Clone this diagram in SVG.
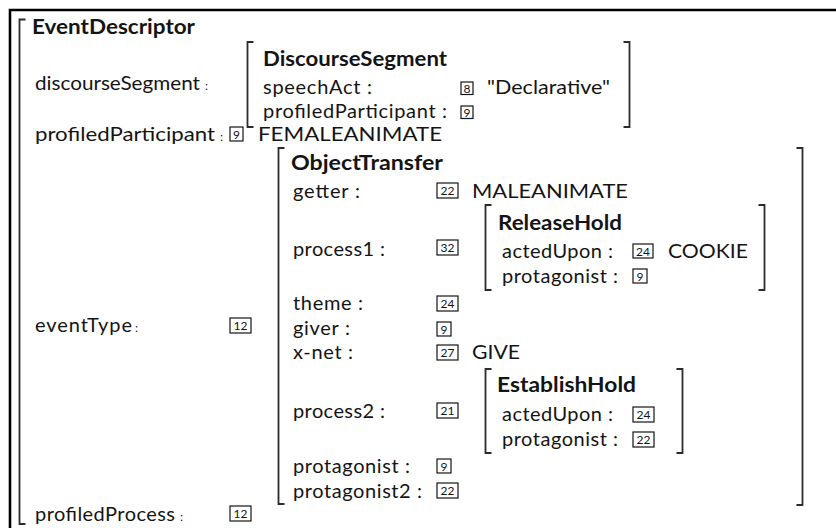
<svg xmlns="http://www.w3.org/2000/svg" width="836" height="528" viewBox="0 0 836 528">
  <style>
    text { font-family: Lato, "Liberation Sans", sans-serif; font-size: 20px; fill: #141414; }
    .ttl { font-weight: bold; }
    .sc { font-size: 12px; }
    .br { fill: none; stroke: #2b2b2b; stroke-width: 1.8; }
    .frame { fill: none; stroke: #000; stroke-width: 2.6; }
    .tag rect { fill: #fff; stroke: #141414; stroke-width: 1.2; }
    .tag text { font-size: 12px; text-anchor: middle; }
  </style>

  <!-- page frame -->
  <path class="frame" d="M10 528 V10 H836"/>

  <!-- EventDescriptor -->
  <g id="event-descriptor">
    <path class="br" d="M25.5 19.5 H19.5 V524 H25.5"/>
    <text class="ttl" x="32" y="34" textLength="163" lengthAdjust="spacingAndGlyphs">EventDescriptor</text>
    <text x="35" y="90" textLength="165" lengthAdjust="spacingAndGlyphs">discourseSegment</text>
    <text class="sc" x="205" y="90">:</text>
    <text x="35" y="141" textLength="180" lengthAdjust="spacingAndGlyphs">profiledParticipant</text>
    <text class="sc" x="220" y="141">:</text>
    <g class="tag" transform="translate(230,127)"><rect width="13" height="14"/><text x="6.5" y="11.5">9</text></g>
    <text x="258" y="141" textLength="184" lengthAdjust="spacingAndGlyphs">FEMALEANIMATE</text>
    <text x="35" y="332" textLength="97">eventType</text>
    <text class="sc" x="135" y="332">:</text>
    <g class="tag" transform="translate(230,318)"><rect width="21" height="15"/><text x="10.5" y="12">12</text></g>
    <text x="35" y="521" textLength="140">profiledProcess</text>
    <text class="sc" x="180" y="521">:</text>
    <g class="tag" transform="translate(230,506)"><rect width="21" height="15"/><text x="10.5" y="12">12</text></g>
  </g>

  <!-- DiscourseSegment -->
  <g id="discourse-segment">
    <path class="br" d="M253.5 42 H247.5 V127 H253.5"/>
    <path class="br" d="M623.5 42 H629.5 V127 H623.5"/>
    <text class="ttl" x="263" y="66" textLength="184" lengthAdjust="spacingAndGlyphs">DiscourseSegment</text>
    <text x="263" y="94" textLength="109">speechAct :</text>
    <g class="tag" transform="translate(461,82)"><rect width="12" height="12.5"/><text x="6" y="10.5">8</text></g>
    <text x="487" y="94" textLength="123" lengthAdjust="spacingAndGlyphs">"Declarative"</text>
    <text x="263" y="118" textLength="184">profiledParticipant :</text>
    <g class="tag" transform="translate(461,106)"><rect width="12" height="12.5"/><text x="6" y="10.5">9</text></g>
  </g>

  <!-- ObjectTransfer -->
  <g id="object-transfer">
    <path class="br" d="M284.5 148 H278.5 V504 H284.5"/>
    <path class="br" d="M796.5 148 H802.5 V505 H796.5"/>
    <text class="ttl" x="291" y="170" textLength="152" lengthAdjust="spacingAndGlyphs">ObjectTransfer</text>
    <text x="293" y="198" textLength="67">getter :</text>
    <g class="tag" transform="translate(437,183)"><rect width="21" height="15"/><text x="10.5" y="12">22</text></g>
    <text x="472" y="198" textLength="156" lengthAdjust="spacingAndGlyphs">MALEANIMATE</text>
    <text x="293" y="256" textLength="92">process1 :</text>
    <g class="tag" transform="translate(437,240)"><rect width="21" height="15"/><text x="10.5" y="12">32</text></g>
    <text x="293" y="310" textLength="70">theme :</text>
    <g class="tag" transform="translate(437,296)"><rect width="21" height="15"/><text x="10.5" y="12">24</text></g>
    <text x="293" y="335" textLength="57">giver :</text>
    <g class="tag" transform="translate(437,322)"><rect width="14" height="14"/><text x="7" y="11.5">9</text></g>
    <text x="293" y="359" textLength="60">x-net :</text>
    <g class="tag" transform="translate(437,345)"><rect width="21" height="15"/><text x="10.5" y="12">27</text></g>
    <text x="472" y="359" textLength="48" lengthAdjust="spacingAndGlyphs">GIVE</text>
    <text x="293" y="418" textLength="92">process2 :</text>
    <g class="tag" transform="translate(437,403)"><rect width="21" height="15"/><text x="10.5" y="12">21</text></g>
    <text x="293" y="473" textLength="117">protagonist :</text>
    <g class="tag" transform="translate(437,459)"><rect width="14" height="14"/><text x="7" y="11.5">9</text></g>
    <text x="293" y="498" textLength="129">protagonist2 :</text>
    <g class="tag" transform="translate(437,483)"><rect width="21" height="15"/><text x="10.5" y="12">22</text></g>
  </g>

  <!-- ReleaseHold -->
  <g id="release-hold">
    <path class="br" d="M491.5 205 H485.5 V290 H491.5"/>
    <path class="br" d="M758.5 205 H764.5 V290 H758.5"/>
    <text class="ttl" x="498" y="230" textLength="124" lengthAdjust="spacingAndGlyphs">ReleaseHold</text>
    <text x="502" y="258" textLength="111">actedUpon :</text>
    <g class="tag" transform="translate(633,244)"><rect width="20" height="14"/><text x="10" y="11.5">24</text></g>
    <text x="668" y="258" textLength="80" lengthAdjust="spacingAndGlyphs">COOKIE</text>
    <text x="502" y="283" textLength="116">protagonist :</text>
    <g class="tag" transform="translate(633,269)"><rect width="14" height="14"/><text x="7" y="11.5">9</text></g>
  </g>

  <!-- EstablishHold -->
  <g id="establish-hold">
    <path class="br" d="M491.5 369 H485.5 V453 H491.5"/>
    <path class="br" d="M676.5 369 H682.5 V453 H676.5"/>
    <text class="ttl" x="497" y="392" textLength="139" lengthAdjust="spacingAndGlyphs">EstablishHold</text>
    <text x="502" y="421" textLength="111">actedUpon :</text>
    <g class="tag" transform="translate(633,407)"><rect width="21" height="15"/><text x="10.5" y="12">24</text></g>
    <text x="502" y="446" textLength="116">protagonist :</text>
    <g class="tag" transform="translate(633,432)"><rect width="21" height="15"/><text x="10.5" y="12">22</text></g>
  </g>

  <!-- no connectors in this structure -->
  <g id="connectors"/>
</svg>
